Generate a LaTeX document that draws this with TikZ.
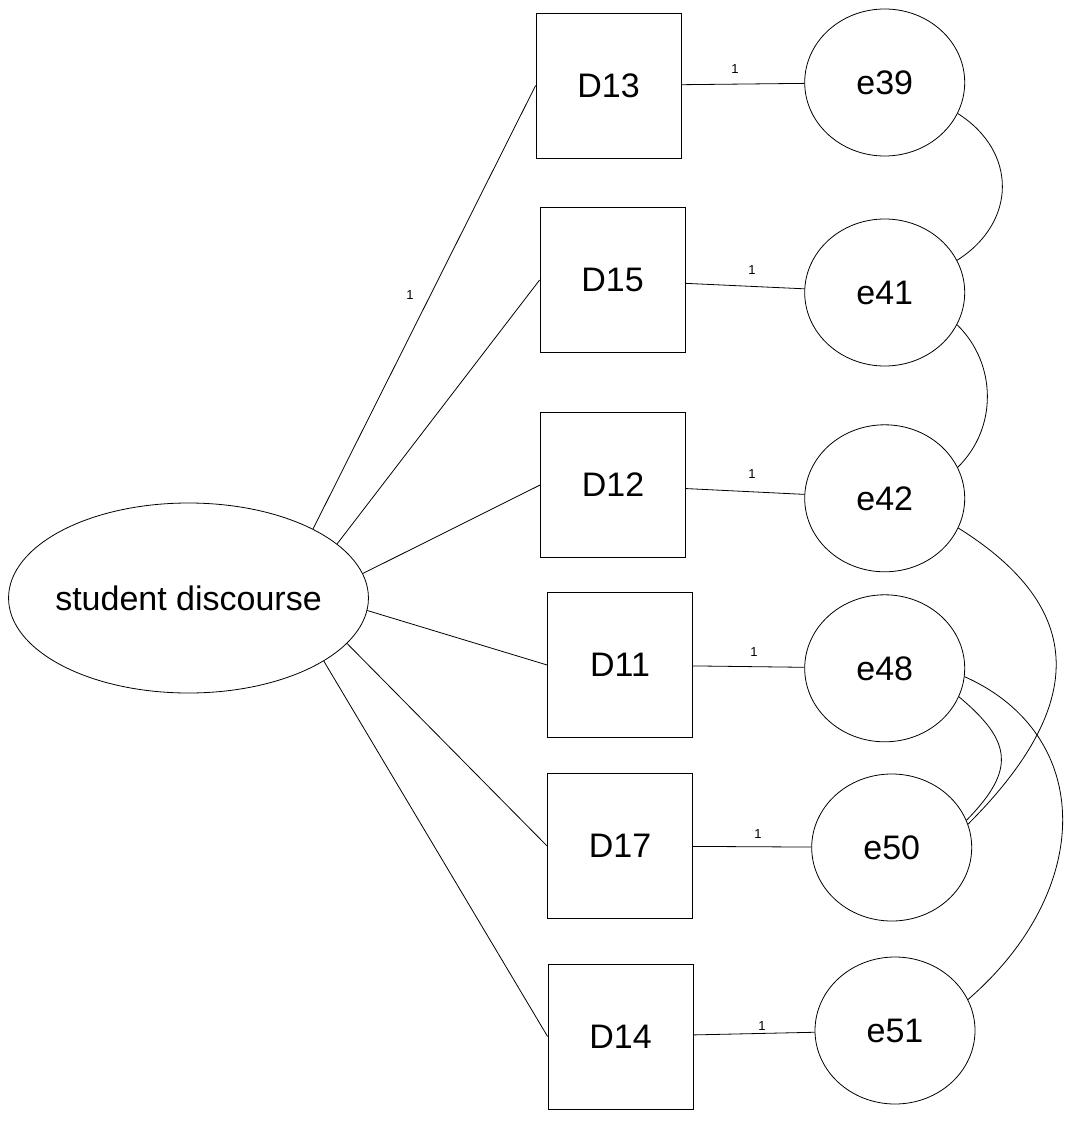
\documentclass[tikz,border=0pt]{standalone}
\usepackage{fontspec}
\setmainfont{Liberation Sans}
\usetikzlibrary{shapes.geometric}
\begin{document}
\begin{tikzpicture}[x=1pt,y=-1pt,
  every path/.style={line width=0.8pt},
  latent/.style={draw,ellipse,minimum width=359pt,minimum height=190pt,inner xsep=-6pt,inner ysep=0pt,font=\fontsize{34}{36}\selectfont},
  indicator/.style={draw,rectangle,minimum width=145pt,minimum height=145pt,inner sep=0pt,font=\fontsize{34}{36}\selectfont},
  errvar/.style={draw,ellipse,minimum width=160pt,minimum height=147pt,inner sep=0pt,font=\fontsize{34}{36}\selectfont},
  weight/.style={inner sep=0pt,font=\fontsize{13}{15}\selectfont}]
\useasboundingbox (0,0) rectangle (1065,1123);

% latent factor
\node[latent] (sd) at (188.5,598) {student discourse};

% observed indicators
\node[indicator] (D13) at (608.5,85.5) {D13};
\node[indicator] (D15) at (612.5,280) {D15};
\node[indicator] (D12) at (613,485) {D12};
\node[indicator] (D11) at (620,665) {D11};
\node[indicator] (D17) at (620,846) {D17};
\node[indicator] (D14) at (620.5,1036.5) {D14};

% error terms
\node[errvar] (e39) at (884.7,82.5) {e39};
\node[errvar] (e41) at (884.7,292.5) {e41};
\node[errvar] (e42) at (884.7,498.3) {e42};
\node[errvar] (e48) at (884.7,668.3) {e48};
\node[errvar] (e50) at (891.7,847.5) {e50};
\node[errvar] (e51) at (895,1030.5) {e51};

% factor loadings
\draw (sd.29.8) -- (D13.west);
\draw (sd.20.4) -- (D15.west);
\draw (sd.8.3) -- (D12.west);
\draw (sd.-4.7) -- (D11.west);
\draw (sd.-16) -- (D17.west);
\draw (sd.-25.5) -- (D14.west);

% error paths
\draw (D13) -- (e39);
\draw (D15) -- (e41);
\draw (D12) -- (e42);
\draw (D11) -- (e48);
\draw (D17) -- (e50);
\draw (D14) -- (e51);

% fixed weights
\node[weight] (w0) at (410,295) {1};
\node[weight] (w1) at (735,69) {1};
\node[weight] (w2) at (752,270) {1};
\node[weight] (w3) at (752,474) {1};
\node[weight] (w4) at (754,652) {1};
\node[weight] (w5) at (758,834) {1};
\node[weight] (w6) at (762,1026) {1};

% error covariances
\draw (e39.-23.5) .. controls +(60,38) and +(60,-38) .. (e41.24.3);
\draw (e41.-24.3) .. controls +(40,39) and +(40,-39) .. (e42.23.7);
\draw (e42.-22.8) .. controls +(128,80) and +(120,-120) .. (e50.17);
\draw (e48.-21.1) .. controls +(54,45) and +(49,-50) .. (e50.20);
\draw (e48.-6) .. controls +(130,58) and +(127,-110) .. (e51.23.7);
\end{tikzpicture}
\end{document}
